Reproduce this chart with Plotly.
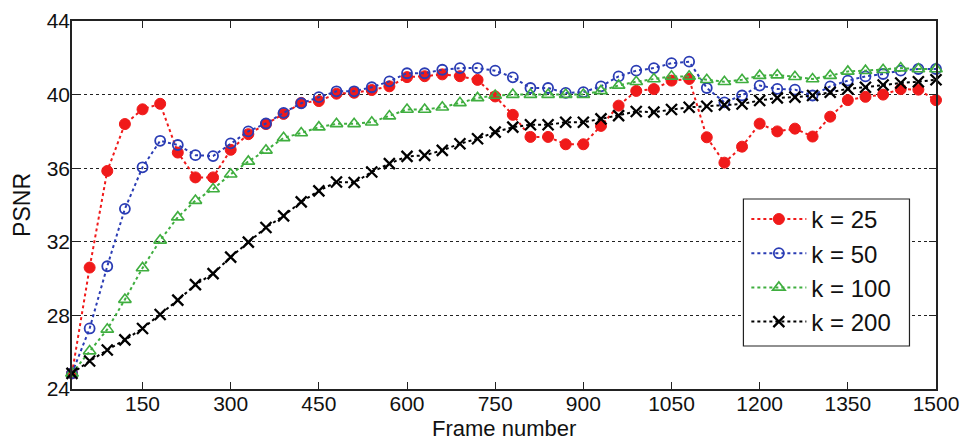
import plotly.graph_objects as go

frames = list(range(30, 1501, 30))

psnr_k25 = [24.85, 30.6, 35.85, 38.4, 39.2, 39.5, 36.85, 35.5, 35.5, 37.0,
            37.85, 38.4, 38.95, 39.55, 39.65, 40.05, 40.1, 40.25, 40.45, 40.95,
            41.0, 41.1, 41.0, 40.8, 39.9, 38.9, 37.7, 37.7, 37.3, 37.3,
            38.3, 39.4, 40.2, 40.3, 40.76, 40.85, 37.68, 36.3, 37.17, 38.42,
            38.0, 38.15, 37.72, 38.8, 39.7, 39.88, 40.0, 40.3, 40.27, 39.7]

psnr_k50 = [24.85, 27.29, 30.67, 33.79, 36.05, 37.49, 37.26, 36.71, 36.66, 37.35,
            38.0, 38.43, 39.01, 39.53, 39.86, 40.18, 40.18, 40.4, 40.72, 41.16,
            41.16, 41.35, 41.44, 41.44, 41.3, 40.94, 40.36, 40.36, 40.09, 40.13,
            40.45, 40.99, 41.3, 41.44, 41.71, 41.79, 40.36, 39.58, 39.95, 40.49,
            40.31, 40.27, 39.95, 40.45, 40.76, 40.99, 41.12, 41.3, 41.39, 41.39]

psnr_k100 = [24.85, 26.06, 27.24, 28.86, 30.58, 32.08, 33.34, 34.24, 34.87, 35.67,
             36.37, 36.97, 37.65, 37.91, 38.23, 38.41, 38.41, 38.5, 38.83, 39.19,
             39.19, 39.31, 39.55, 39.82, 39.95, 40.0, 40.0, 40.0, 40.0, 40.0,
             40.2, 40.5, 40.7, 40.85, 40.99, 40.99, 40.81, 40.7, 40.81, 41.03,
             41.06, 40.97, 40.85, 41.03, 41.26, 41.3, 41.35, 41.44, 41.39, 41.39]

psnr_k200 = [24.85, 25.52, 26.12, 26.67, 27.29, 28.05, 28.83, 29.67, 30.27, 31.17,
             31.98, 32.78, 33.41, 34.17, 34.77, 35.25, 35.22, 35.79, 36.25, 36.64,
             36.7, 36.97, 37.33, 37.6, 37.96, 38.23, 38.36, 38.36, 38.5, 38.5,
             38.68, 38.86, 39.08, 39.05, 39.19, 39.31, 39.37, 39.44, 39.49, 39.68,
             39.82, 39.86, 39.95, 40.13, 40.31, 40.4, 40.52, 40.63, 40.7, 40.81]

series_names = ["k = 25", "k = 50", "k = 100", "k = 200"]
x_ticks = [150, 300, 450, 600, 750, 900, 1050, 1200, 1350, 1500]
y_ticks = [24, 28, 32, 36, 40, 44]

styles = [
    dict(color="#f01a1a", symbol="circle", size=11, mlw=1),
    dict(color="#2a3cb4", symbol="circle-open", size=10, mlw=1.8),
    dict(color="#3fae3f", symbol="triangle-up-open", size=11, mlw=1.6),
    dict(color="#000000", symbol="x-thin-open", size=11, mlw=2.3),
]

fig = go.Figure()
for i, (name, ys) in enumerate(zip(series_names, [psnr_k25, psnr_k50, psnr_k100, psnr_k200])):
    st = styles[i]
    fig.add_trace(go.Scatter(
        x=frames, y=ys, name=name, mode="lines+markers",
        legendgroup=name,
        line=dict(color=st["color"], width=2, dash="dot"),
        marker=dict(symbol=st["symbol"], size=st["size"], color=st["color"],
                    line=dict(color=st["color"], width=st["mlw"])),
        cliponaxis=False,
    ))

fam = "Liberation Sans, Arial, sans-serif"
tick_font = dict(family=fam, size=21, color="#111")
title_font = dict(family=fam, size=22, color="#111")

fig.update_layout(
    width=960, height=440,
    margin=dict(l=72, r=24, t=21, b=51, autoexpand=False),
    paper_bgcolor="white", plot_bgcolor="white",
    font=tick_font,
    xaxis=dict(range=[30, 1500], tickvals=x_ticks, ticks="inside", ticklen=7,
               tickwidth=1.3, tickcolor="#222", showline=True, linecolor="#222",
               linewidth=1.5, mirror="allticks", showgrid=False, zeroline=False,
               tickfont=tick_font, automargin=False, ticklabelstandoff=-5),
    yaxis=dict(range=[24, 44], tickvals=y_ticks, ticks="inside", ticklen=7,
               tickwidth=1.3, tickcolor="#222", showline=True, linecolor="#222",
               linewidth=1.5, mirror="allticks", showgrid=True, gridcolor="#222",
               gridwidth=1, griddash="3px,3px", zeroline=False,
               tickfont=tick_font, automargin=False, ticklabelstandoff=-4),
    legend=dict(x=0.7805, y=0.522, xanchor="left", yanchor="top",
                bgcolor="rgba(0,0,0,0)", borderwidth=0,
                font=dict(family=fam, size=24, color="#111"),
                traceorder="grouped", tracegroupgap=0, itemwidth=55),
    showlegend=True,
    shapes=[
        dict(type="rect", xref="paper", yref="paper", x0=0.7771, x1=0.9693,
             y0=0.1168, y1=0.5163, fillcolor="white",
             line=dict(color="#222", width=1.2), layer="above"),
    ],
    annotations=[
        dict(text="Frame number", xref="paper", yref="paper", x=0.5, y=-0.1065,
             xanchor="center", yanchor="middle", showarrow=False, font=title_font),
        dict(text="PSNR", xref="paper", yref="paper", x=-0.058, y=0.5,
             xanchor="center", yanchor="middle", showarrow=False, textangle=-90,
             font=dict(family=fam, size=23, color="#111")),
    ],
)

fig.write_html("out.html",
               config={"displayModeBar": False},
               post_script="document.body.style.margin='0';"
                           "document.documentElement.style.overflow='hidden';")
